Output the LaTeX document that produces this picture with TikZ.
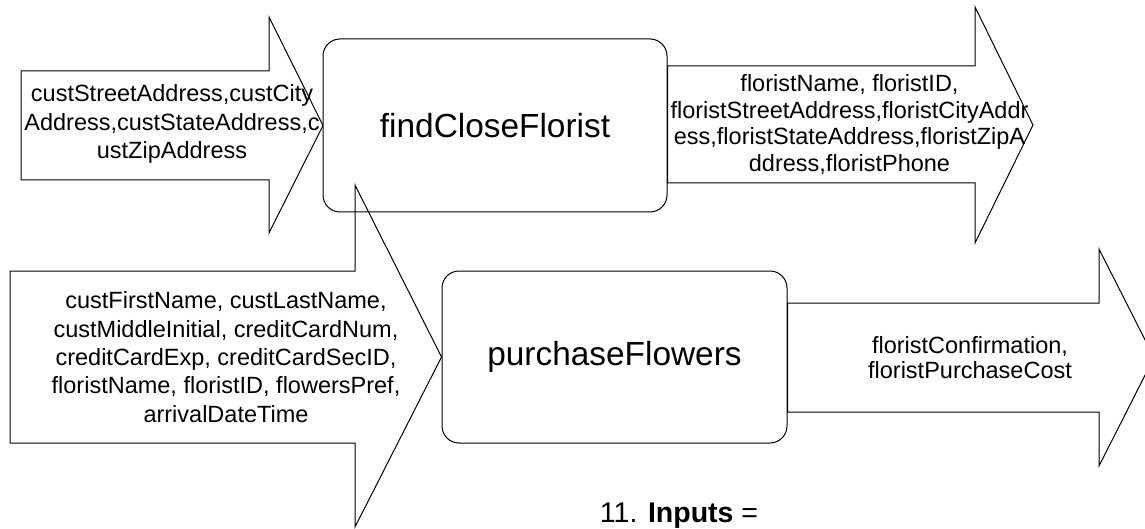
\documentclass[tikz,border=0pt]{standalone}
\usepackage{fontspec}
\setmainfont{Liberation Sans}
\begin{document}
\begin{tikzpicture}[x=1pt,y=-1pt,line width=1pt,
  blockarrow/.style={draw=black,line join=miter},
  txt/.style={inner sep=0pt,align=center,text=black,font=\fontsize{23.5}{27.5}\selectfont},
  proc/.style={draw=black,rounded corners=17pt,fill=white,inner sep=0pt,font=\fontsize{33.4}{40}\selectfont}]
\useasboundingbox (0,0) rectangle (1145,529);
\clip (0,0) rectangle (1145,529);

% top-left input arrow
\draw[blockarrow,fill=white] (21,71) -- (269,71) -- (269,17) -- (323,125.5) -- (269,233) -- (269,180) -- (21,180) -- cycle;
\node[txt,font=\fontsize{23.5}{28.5}\selectfont] (inTop) at (172,124) {custStreetAddress,custCity\\Address,custStateAddress,c\\ustZipAddress};

% top process box
\node[proc,minimum width=344pt,minimum height=173pt] (find) at (495,125.5) {findCloseFlorist};

% top-right output arrow
\draw[blockarrow,fill=white] (find.east |- 0,66) -- (975,66) -- (975,7) -- (1033,125) -- (975,243) -- (975,183) -- (find.east |- 0,183) -- cycle;
\node[txt,font=\fontsize{23.5}{26.7}\selectfont] (outTop) at (849.5,124.5) {floristName, floristID,\\floristStreetAddress,floristCityAddr\\ess,floristStateAddress,floristZipA\\ddress,floristPhone};

% bottom process box
\node[proc,minimum width=345pt,minimum height=172pt] (buy) at (614.5,357) {purchaseFlowers};

% bottom-right output arrow
\draw[blockarrow,fill=white] (buy.east |- 0,303) -- (1099,303) -- (1099,249) -- (1154,357.5) -- (1099,466) -- (1099,412) -- (buy.east |- 0,412) -- cycle;
\node[txt,font=\fontsize{23.5}{25}\selectfont] (outBot) at (970,357.5) {floristConfirmation,\\floristPurchaseCost};

% bottom-left input arrow (drawn over the top box)
\draw[blockarrow] (10,271) -- (355,271) -- (355,185) -- (buy.west) -- (355,527) -- (355,443) -- (10,443) -- cycle;
\node[txt,font=\fontsize{23.5}{28.3}\selectfont] (inBot) at (226,357) {custFirstName, custLastName,\\custMiddleInitial, creditCardNum,\\creditCardExp, creditCardSecID,\\floristName, floristID, flowersPref,\\arrivalDateTime};

% caption
\node[inner sep=0pt,anchor=base,font=\fontsize{28.5}{32}\selectfont] (cap) at (679,522) {11. \textbf{Inputs} =};
\end{tikzpicture}
\end{document}
